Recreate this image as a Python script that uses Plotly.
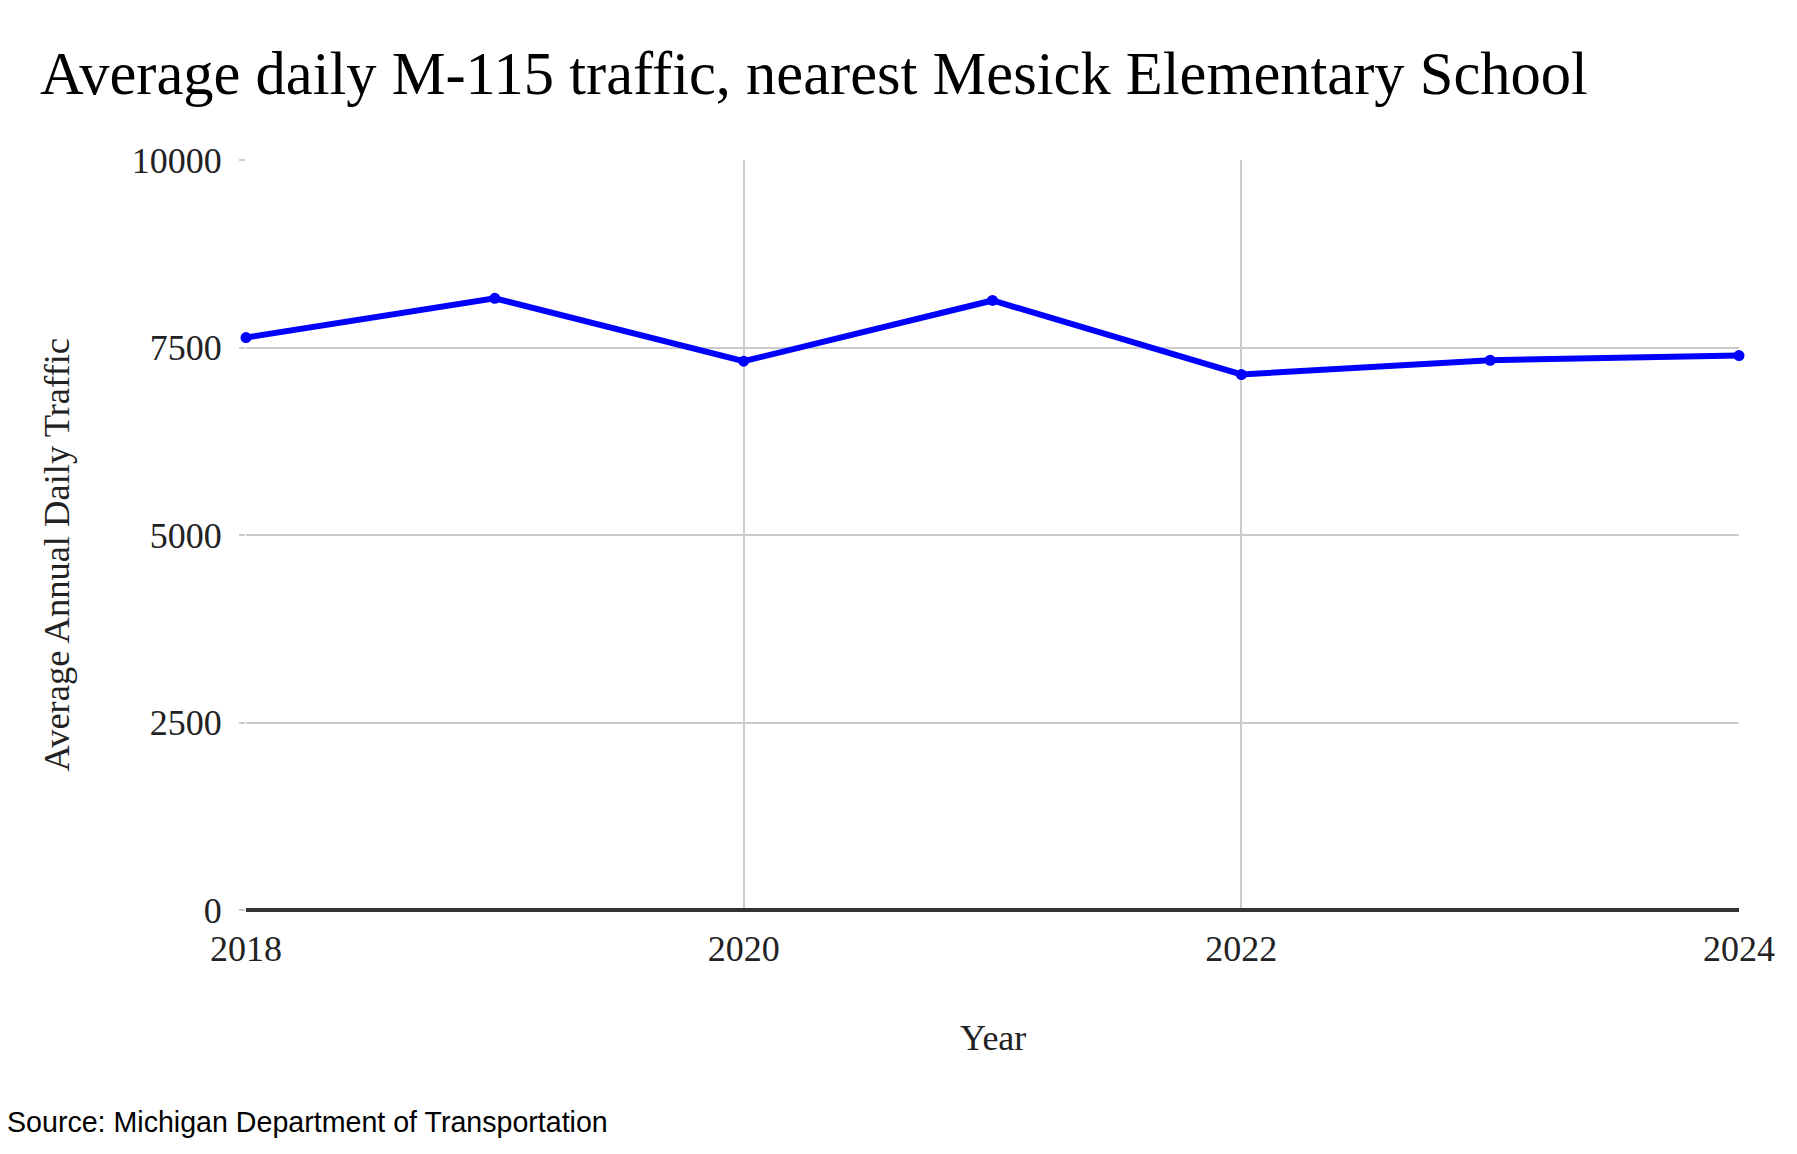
import plotly.graph_objects as go

# MDOT average annual daily traffic on M-115 near Mesick Elementary
years = [2018, 2019, 2020, 2021, 2022, 2023, 2024]
aadt = [7633, 8156, 7317, 8127, 7140, 7330, 7393]

x_ticks = [2018, 2020, 2022, 2024]
y_ticks = [0, 2500, 5000, 7500, 10000]

serif = "Liberation Serif, Times New Roman, serif"

# page body has an 8px margin, so the figure is drawn from (8, 8)
W, H = 1789, 1146

fig = go.Figure(go.Scatter(
    x=years,
    y=aadt,
    mode="lines+markers",
    line=dict(color="#0000ff", width=6),
    marker=dict(color="#0000ff", size=11),
    cliponaxis=False,
    showlegend=False,
))

fig.update_layout(
    width=W,
    height=H,
    margin=dict(l=238, r=58, t=152, b=244),
    paper_bgcolor="white",
    plot_bgcolor="white",
    font=dict(family=serif, color="#222222", size=36),
    title=dict(
        text="Average daily M-115 traffic, nearest Mesick Elementary School",
        font=dict(family=serif, size=60.5, color="#000000"),
        xref="container", x=32 / W, xanchor="left",
        yref="container", y=1 - 65 / H, yanchor="middle",
    ),
)

fig.update_xaxes(
    range=[2018, 2024],
    tickvals=x_ticks,
    ticktext=[str(t) for t in x_ticks],
    showgrid=True, gridcolor="#cccccc", gridwidth=2,
    zeroline=False, showline=False,
    ticks="", ticklabelstandoff=14,
    tickfont=dict(family=serif, size=36, color="#222222"),
)

fig.update_yaxes(
    range=[0, 10000],
    tickvals=y_ticks,
    ticktext=[str(t) for t in y_ticks],
    showgrid=True, gridcolor="#cccccc", gridwidth=2,
    zeroline=True, zerolinecolor="#333333", zerolinewidth=3.5,
    ticks="outside", ticklen=6, tickcolor="#cccccc", tickwidth=2,
    ticklabelstandoff=10,
    tickfont=dict(family=serif, size=36, color="#222222"),
)

# axis titles and source note
fig.add_annotation(
    text="Year", xref="paper", yref="paper", x=0.5, y=(910.5 - 1038) / 750,
    xanchor="center", yanchor="middle", showarrow=False,
    font=dict(family=serif, size=36, color="#222222"),
)
fig.add_annotation(
    text="Average Annual Daily Traffic", xref="paper", yref="paper",
    x=(56 - 246) / 1493, y=(910.5 - 555) / 750, textangle=-90,
    xanchor="center", yanchor="middle", showarrow=False,
    font=dict(family=serif, size=36.5, color="#222222"),
)
fig.add_annotation(
    text="Source: Michigan Department of Transportation", xref="paper", yref="paper",
    x=(5 - 246) / 1493, y=(910.5 - 1122) / 750,
    xanchor="left", yanchor="middle", showarrow=False,
    font=dict(family="Liberation Sans, Arial, sans-serif", size=28.6, color="#000000"),
)

fig.write_html("out.html")
